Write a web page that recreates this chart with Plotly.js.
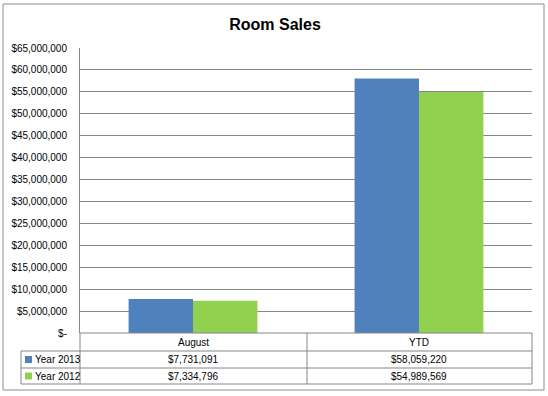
<!DOCTYPE html>
<html>
<head>
<meta charset="utf-8">
<script src="https://cdn.plot.ly/plotly-3.0.1.min.js"></script>
<style>html,body{margin:0;padding:0;background:#fff;}#chart{width:548px;height:396px;}</style>
</head>
<body>
<div id="chart"></div>
<script>
const categories = ["August", "YTD"];
const seriesNames = ["Year 2013", "Year 2012"];
const year2013 = [7731091, 58059220];
const year2012 = [7334796, 54989569];
const seriesColors = ["#4F81BD", "#92D050"];
const yTickVals = [0,5e6,10e6,15e6,20e6,25e6,30e6,35e6,40e6,45e6,50e6,55e6,60e6,65e6];
const yTickText = ["$-","$5,000,000","$10,000,000","$15,000,000","$20,000,000","$25,000,000","$30,000,000","$35,000,000","$40,000,000","$45,000,000","$50,000,000","$55,000,000","$60,000,000","$65,000,000"];

const W = 548, H = 396;
const L = 80, R = 532, T = 48, B = 333;
const px = x => (x - L) / (R - L);
const py = y => (B - y) / (B - T);
const fmt = v => "$" + v.toLocaleString("en-US");
const font = {family: "Liberation Sans, Arial, sans-serif", size: 10, color: "#000"};
const lineC = "#868686";

const seriesValues = [year2013, year2012];
const traces = seriesValues.map((vals, i) => ({
  type: "bar", x: categories, y: vals, name: seriesNames[i],
  marker: {color: seriesColors[i]}, hoverinfo: "none"
}));

const shapes = [];
const annotations = [];
const line = (x0,y0,x1,y1) => shapes.push({type:"line",xref:"paper",yref:"paper",x0:px(x0),y0:py(y0),x1:px(x1),y1:py(y1),line:{color:lineC,width:1}});
// outer border
shapes.push({type:"rect",xref:"paper",yref:"paper",x0:px(3),y0:py(4),x1:px(544),y1:py(390),line:{color:"#8c8c8c",width:1}});
// table grid
const rowY = [333, 351, 368, 384];
line(L, 333, R, 333);
for (let k = 1; k < rowY.length; k++) line(21, rowY[k], R, rowY[k]);
line(L, 333, L, 384);
line(307, 333, 307, 384);
line(R, 333, R, 384);
line(21, 351, 21, 384);

// header
categories.forEach(c => annotations.push({xref:"x",yref:"paper",x:c,y:py(342),text:c,showarrow:false,font,xanchor:"center",yanchor:"middle"}));
// rows
seriesValues.forEach((vals, i) => {
  const yc = (rowY[i+1] + rowY[i+2]) / 2;
  vals.forEach((v, j) => annotations.push({xref:"x",yref:"paper",x:categories[j],y:py(yc),text:fmt(v),showarrow:false,font,xanchor:"center",yanchor:"middle"}));
  shapes.push({type:"rect",xref:"paper",yref:"paper",x0:px(25),x1:px(32),y0:py(yc-3.5),y1:py(yc+3.5),fillcolor:seriesColors[i],line:{width:0}});
  annotations.push({xref:"paper",yref:"paper",x:px(33),y:py(yc),text:seriesNames[i],showarrow:false,font,xanchor:"left",yanchor:"middle"});
});

const layout = {
  width: W, height: H,
  margin: {l: L, r: W - R, t: T, b: H - B, pad: 0},
  paper_bgcolor: "#fff", plot_bgcolor: "#fff",
  title: {text: "<b>Room Sales</b>", x: 275/W, xref: "container", xanchor: "center", y: 1 - 24/H, yref: "container", yanchor: "middle",
          font: {family: "Liberation Sans, Arial, sans-serif", size: 16, color: "#000"}},
  showlegend: false,
  barmode: "group", bargap: 0.43, bargroupgap: 0,
  xaxis: {showticklabels: false, showgrid: false, zeroline: false, showline: false, ticks: "", fixedrange: true},
  yaxis: {range: [0, 65e6], tickvals: yTickVals, ticktext: yTickText, showgrid: true, gridcolor: lineC, gridwidth: 1,
          zeroline: false, showline: true, linecolor: lineC, linewidth: 1, ticks: "", ticklabelstandoff: 10,
          tickfont: font, fixedrange: true},
  shapes, annotations
};
Plotly.newPlot("chart", traces, layout, {displayModeBar: false, staticPlot: true});
</script>
</body>
</html>
